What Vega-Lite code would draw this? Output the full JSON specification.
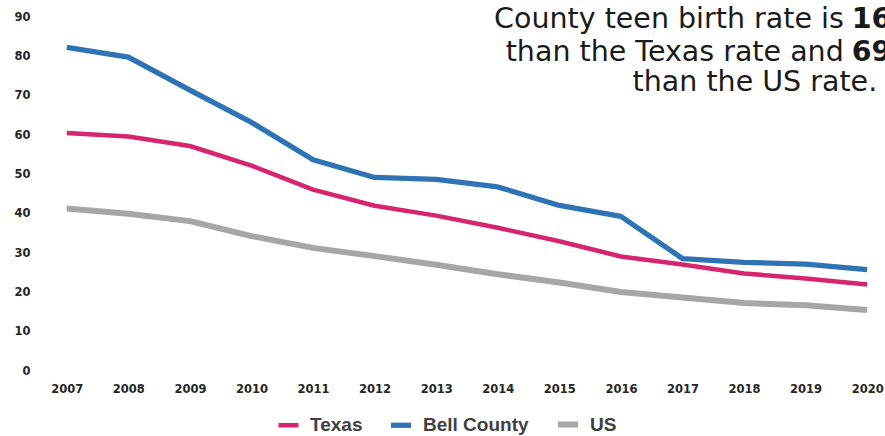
{
  "$schema": "https://vega.github.io/schema/vega-lite/v6.json",
  "autosize": {"type": "none"},
  "padding": {"left": 36, "top": 17, "right": 0, "bottom": 65},
  "width": 849,
  "height": 354,
  "background": "white",
  "config": {"view": {"stroke": null}},
  "resolve": {"axis": {"x": "independent", "y": "independent"}},
  "layer": [
    {
      "data": {"values": [
        {"year": 2007, "series": "Bell County", "rate": 82.3},
        {"year": 2008, "series": "Bell County", "rate": 79.8},
        {"year": 2009, "series": "Bell County", "rate": 71.4},
        {"year": 2010, "series": "Bell County", "rate": 63.2},
        {"year": 2011, "series": "Bell County", "rate": 53.7},
        {"year": 2012, "series": "Bell County", "rate": 49.2},
        {"year": 2013, "series": "Bell County", "rate": 48.7},
        {"year": 2014, "series": "Bell County", "rate": 46.8},
        {"year": 2015, "series": "Bell County", "rate": 42.1},
        {"year": 2016, "series": "Bell County", "rate": 39.3},
        {"year": 2017, "series": "Bell County", "rate": 28.6},
        {"year": 2018, "series": "Bell County", "rate": 27.6},
        {"year": 2019, "series": "Bell County", "rate": 27.2},
        {"year": 2020, "series": "Bell County", "rate": 25.8},
        {"year": 2007, "series": "Texas", "rate": 60.5},
        {"year": 2008, "series": "Texas", "rate": 59.6},
        {"year": 2009, "series": "Texas", "rate": 57.2},
        {"year": 2010, "series": "Texas", "rate": 52.2},
        {"year": 2011, "series": "Texas", "rate": 46.1},
        {"year": 2012, "series": "Texas", "rate": 42.0},
        {"year": 2013, "series": "Texas", "rate": 39.5},
        {"year": 2014, "series": "Texas", "rate": 36.4},
        {"year": 2015, "series": "Texas", "rate": 33.0},
        {"year": 2016, "series": "Texas", "rate": 29.1},
        {"year": 2017, "series": "Texas", "rate": 27.1},
        {"year": 2018, "series": "Texas", "rate": 24.8},
        {"year": 2019, "series": "Texas", "rate": 23.5},
        {"year": 2020, "series": "Texas", "rate": 22.0},
        {"year": 2007, "series": "US", "rate": 41.3},
        {"year": 2008, "series": "US", "rate": 40.0},
        {"year": 2009, "series": "US", "rate": 38.1},
        {"year": 2010, "series": "US", "rate": 34.3},
        {"year": 2011, "series": "US", "rate": 31.3},
        {"year": 2012, "series": "US", "rate": 29.2},
        {"year": 2013, "series": "US", "rate": 27.0},
        {"year": 2014, "series": "US", "rate": 24.6},
        {"year": 2015, "series": "US", "rate": 22.5},
        {"year": 2016, "series": "US", "rate": 20.1},
        {"year": 2017, "series": "US", "rate": 18.7},
        {"year": 2018, "series": "US", "rate": 17.3},
        {"year": 2019, "series": "US", "rate": 16.7},
        {"year": 2020, "series": "US", "rate": 15.5}
      ]},
      "mark": {"type": "line", "strokeCap": "butt", "strokeJoin": "round", "clip": false},
      "encoding": {
        "x": {"field": "year", "type": "quantitative",
          "scale": {"domain": [2006.5, 2020.29], "nice": false, "zero": false},
          "axis": {"values": [2007,2008,2009,2010,2011,2012,2013,2014,2015,2016,2017,2018,2019,2020],
            "format": "d", "title": null, "grid": false, "domain": false, "ticks": false,
            "labelPadding": 12, "labelFont": "DejaVu Sans", "labelFontWeight": "bold",
            "labelFontSize": 11.5, "labelColor": "#262626", "labelFlush": false, "labelOverlap": false}},
        "y": {"field": "rate", "type": "quantitative",
          "scale": {"domain": [0, 90], "nice": false},
          "axis": {"values": [0,10,20,30,40,50,60,70,80,90], "title": null, "grid": false,
            "domain": false, "ticks": false, "labelPadding": 6, "labelFont": "DejaVu Sans",
            "labelFontWeight": "bold", "labelFontSize": 11.5, "labelColor": "#262626", "labelOverlap": false, "labelFlush": false}},
        "color": {"field": "series", "type": "nominal",
          "scale": {"domain": ["Texas", "Bell County", "US"], "range": ["#D6246E", "#2E74B5", "#A6A6A6"]},
          "legend": {"title": null, "orient": "none", "direction": "horizontal",
            "legendX": 240, "legendY": 394.5, "padding": 0,
            "symbolType": "stroke", "symbolSize": 400, "symbolStrokeWidth": 5,
            "labelOffset": 9, "columnPadding": 17,
            "labelFont": "Liberation Sans", "labelFontWeight": "bold", "labelFontSize": 19,
            "labelColor": "#404040"}},
        "strokeWidth": {"field": "series", "type": "nominal",
          "scale": {"domain": ["Texas", "Bell County", "US"], "range": [4.5, 6, 6]},
          "legend": null}
      }
    },
    {
      "data": {"values": [
        {"line": "County teen birth rate is", "bold": "16", "yv": 87.2, "xr": 2019.62},
        {"line": "than the Texas rate and", "bold": "69", "yv": 78.8, "xr": 2019.62}
      ]},
      "layer": [
        {
          "mark": {"type": "text", "align": "right", "baseline": "alphabetic", "font": "DejaVu Sans", "fontSize": 28.5, "color": "#1a1a1a", "clip": false},
          "encoding": {"x": {"field": "xr", "type": "quantitative", "axis": null}, "y": {"field": "yv", "type": "quantitative", "axis": null}, "text": {"field": "line"}}
        },
        {
          "mark": {"type": "text", "align": "left", "baseline": "alphabetic", "font": "DejaVu Sans", "fontSize": 28.5, "fontWeight": "bold", "color": "#1a1a1a", "clip": false, "dx": 8},
          "encoding": {"x": {"field": "xr", "type": "quantitative", "axis": null}, "y": {"field": "yv", "type": "quantitative", "axis": null}, "text": {"field": "bold"}}
        }
      ]
    },
    {
      "data": {"values": [{"line": "than the US rate.", "yv": 71.2, "xl": 2016.19}]},
      "mark": {"type": "text", "align": "left", "baseline": "alphabetic", "font": "DejaVu Sans", "fontSize": 28.5, "color": "#1a1a1a", "clip": false},
      "encoding": {"x": {"field": "xl", "type": "quantitative", "axis": null}, "y": {"field": "yv", "type": "quantitative", "axis": null}, "text": {"field": "line"}}
    }
  ]
}
